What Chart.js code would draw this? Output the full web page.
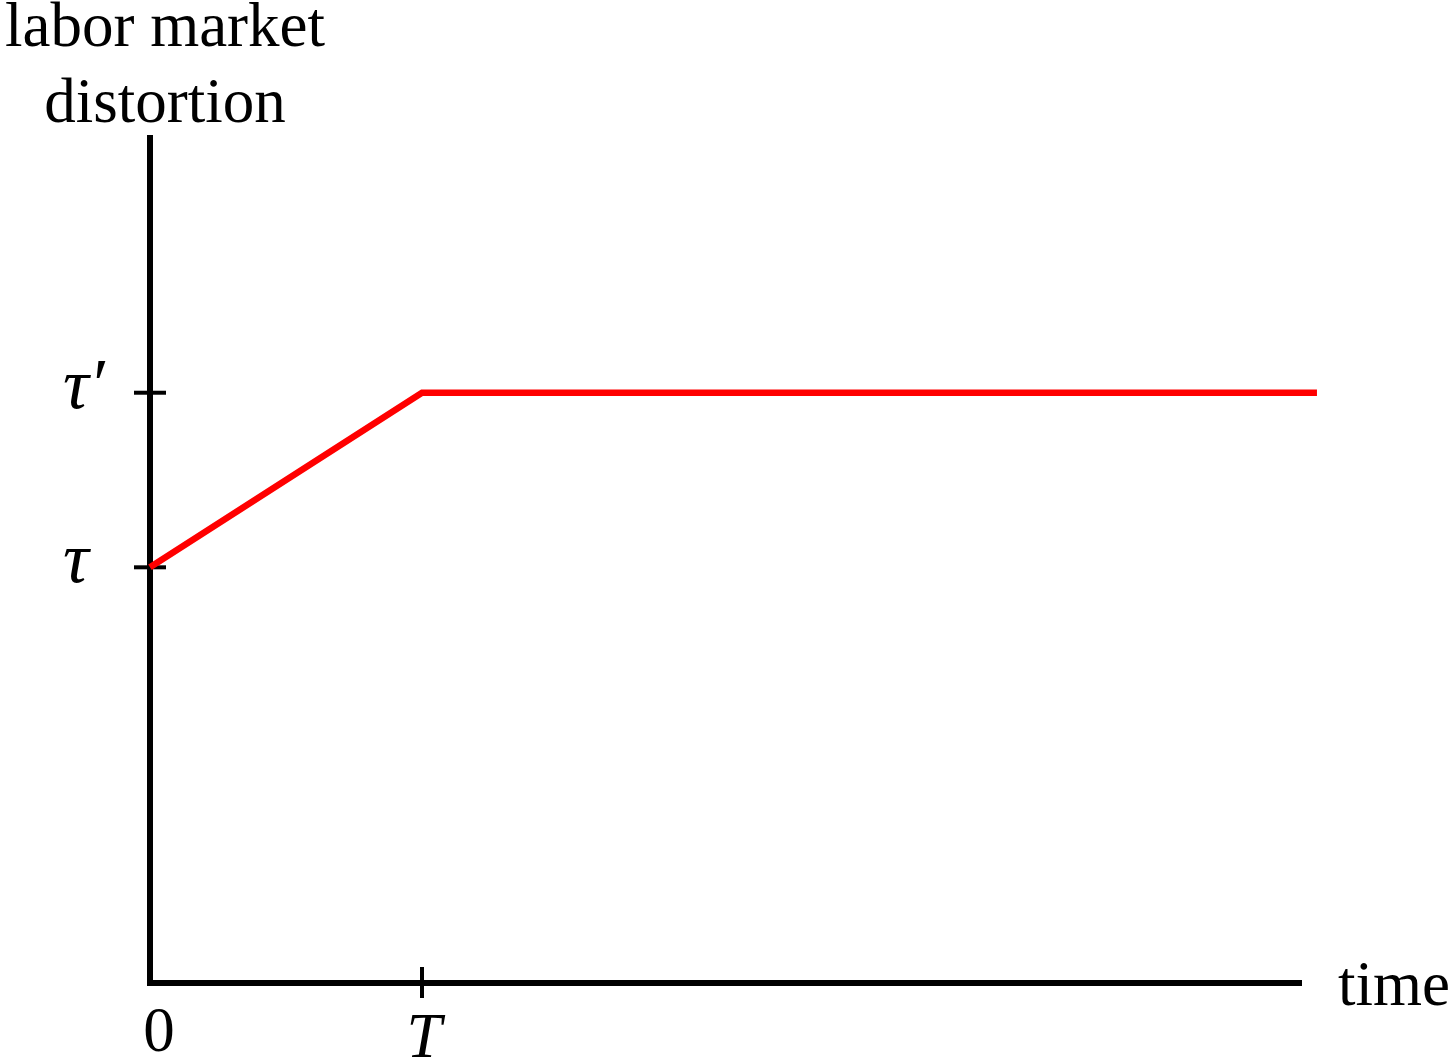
<!DOCTYPE html>
<html>
<head>
<meta charset="utf-8">
<script src="https://cdn.jsdelivr.net/npm/chart.js@4.4.1/dist/chart.umd.min.js"></script>
<style>
  html, body { margin: 0; padding: 0; background: #fff; }
  #wrap { width: 1452px; height: 1060px; }
</style>
</head>
<body>
<div id="wrap"><canvas id="distChart"></canvas></div>
<script>
// time measured in units of T, distortion in units of tau
const timePoints = [0, 1, 4.29];
const distortion = [1, 1.42, 1.42];

const xTickValues = [0, 1];
const xTickLabels = ['0', 'T'];
const yTickValues = [1, 1.42];
const yTickLabels = ['τ', 'τ′'];

const xMax = 4.235;
const yMax = 2.04;

const serif = '"Liberation Serif", "Times New Roman", serif';

// axes, tick marks and the text labels, placed with the chart's own scales
const axesPlugin = {
    id: 'axes',
    beforeDatasetsDraw(chart) {
        const c = chart.ctx;
        const xs = chart.scales.x, ys = chart.scales.y;
        const x0 = xs.getPixelForValue(0), y0 = ys.getPixelForValue(0);
        const xEnd = xs.getPixelForValue(xMax), yTop = ys.getPixelForValue(yMax);
        c.save();
        c.strokeStyle = '#000';
        c.lineWidth = 6;
        c.lineJoin = 'miter';
        c.lineCap = 'butt';
        c.beginPath();
        c.moveTo(x0, yTop);
        c.lineTo(x0, y0);
        c.lineTo(xEnd, y0);
        c.stroke();

        c.lineWidth = 4;
        yTickValues.forEach(v => {
            const py = ys.getPixelForValue(v);
            c.beginPath();
            c.moveTo(x0 - 16, py);
            c.lineTo(x0 + 16, py);
            c.stroke();
        });
        xTickValues.forEach(v => {
            if (v === 0) return;
            const px = xs.getPixelForValue(v);
            c.beginPath();
            c.moveTo(px, y0 - 16);
            c.lineTo(px, y0 + 15);
            c.stroke();
        });
        c.restore();
    },
    afterDraw(chart) {
        const c = chart.ctx;
        const xs = chart.scales.x, ys = chart.scales.y;
        c.save();
        c.fillStyle = '#000';
        c.textBaseline = 'alphabetic';

        // y tick labels (greek, italic)
        c.font = 'italic 72px ' + serif;
        c.textAlign = 'left';
        yTickValues.forEach((v, i) => {
            c.fillText(yTickLabels[i], 63, ys.getPixelForValue(v) + 15);
        });

        // x tick labels
        c.textAlign = 'center';
        xTickValues.forEach((v, i) => {
            const px = xs.getPixelForValue(v);
            if (i === 0) {
                c.font = '63px ' + serif;
                c.fillText(xTickLabels[i], px + 9, 1051);
            } else {
                c.font = 'italic 63px ' + serif;
                c.fillText(xTickLabels[i], px + 2, 1057);
            }
        });

        // axis titles
        c.font = '63px ' + serif;
        c.textAlign = 'center';
        c.fillText('labor market', 165, 46);
        c.fillText('distortion', 165, 122);
        c.textAlign = 'left';
        c.fillText('time', 1338, 1005);
        c.restore();
    }
};

new Chart(document.getElementById('distChart'), {
    type: 'line',
    data: {
        datasets: [{
            data: timePoints.map((t, i) => ({ x: t, y: distortion[i] })),
            borderColor: '#ff0000',
            borderWidth: 6.5,
            borderJoinStyle: 'miter',
            borderCapStyle: 'butt',
            pointRadius: 0,
            tension: 0,
            fill: false,
            clip: false
        }]
    },
    options: {
        responsive: true,
        maintainAspectRatio: false,
        animation: false,
        events: [],
        layout: {
            padding: { left: 150, right: 150, top: 135, bottom: 77 }
        },
        plugins: {
            legend: { display: false },
            tooltip: { enabled: false }
        },
        scales: {
            x: { type: 'linear', min: 0, max: xMax, display: false },
            y: { type: 'linear', min: 0, max: yMax, display: false }
        }
    },
    plugins: [axesPlugin]
});
</script>
</body>
</html>
